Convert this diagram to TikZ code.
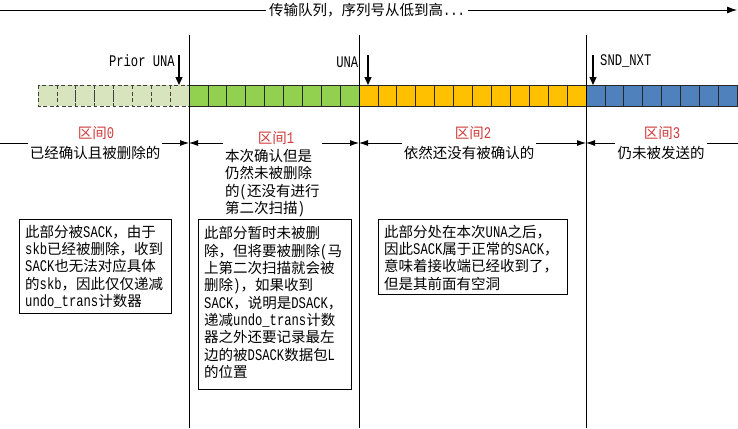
\documentclass[tikz,border=0pt]{standalone}
\usepackage{fontspec}
\setmainfont{Noto Sans CJK SC}
\newfontfamily\lf[FakeStretch=0.75,Scale=1.12]{Liberation Mono}
\usetikzlibrary{arrows.meta}
\definecolor{paleg}{HTML}{D7E4BD}
\definecolor{cg}{HTML}{92D050}
\definecolor{co}{HTML}{FFC000}
\definecolor{cb}{HTML}{4F81BD}
\definecolor{zred}{HTML}{D03A3A}
\newcommand\Lt[1]{{\lf #1}}
\begin{document}
\begin{tikzpicture}[x=1pt,y=-1pt,
  every node/.style={font=\fontsize{14.5}{17.3}\selectfont, inner sep=0pt},
  cell/.style={draw=black!85, line width=0.7pt},
  ghost/.style={draw=black!75, dash pattern=on 4pt off 2.5pt, fill=paleg, line width=0.7pt},
  divider/.style={line width=0.8pt},
  ptr/.style={line width=1.4pt, -{Triangle[length=8pt,width=7pt]}},
  span/.style={line width=0.8pt},
  spanr/.style={span, -{Latex[length=9pt,width=6pt]}},
  spanl/.style={span, {Latex[length=9pt,width=6pt]}-},
  spanlr/.style={span, {Latex[length=9pt,width=6pt]}-{Latex[length=9pt,width=6pt]}},
  hd/.style={text=zred},
  desc/.style={inner xsep=2pt},
  note/.style={draw, line width=0.8pt, anchor=north west},
  ntext/.style={anchor=north west, align=left},
  ]
\useasboundingbox (0,0) rectangle (738,428);

% title arrow
\node[inner xsep=3pt] (title) at (367,10) {传输队列，序列号从低到高\Lt{...}};
\coordinate (tl) at (0,10);
\coordinate (tr) at (737,10);
\draw[line width=0.8pt] (tl) -- (title.west);
\draw[line width=0.8pt,-{Latex[length=10pt,width=7pt]}] (title.east) -- (tr);

% packet cells
\foreach \i in {0,...,7} \draw[ghost] ({38+\i*18.875},85) rectangle ++(18.875,21);
\foreach \i in {0,...,8} \draw[cell,fill=cg] ({189+\i*18.889},85) rectangle ++(18.889,21);
\foreach \i in {0,...,11} \draw[cell,fill=co] ({359+\i*18.917},85) rectangle ++(18.917,21);
\foreach \i in {0,...,7} \draw[cell,fill=cb] ({586+\i*18.9},85) rectangle ++(18.9,21);

% dividers
\foreach \x/\n in {189/a,359/b,586/c} {
  \coordinate (d\n t) at (\x,35);
  \coordinate (d\n b) at (\x,428);
  \draw[divider] (d\n t) -- (d\n b);
}

% pointers
\coordinate (p0t) at (179,55); \coordinate (p0b) at (179,85);
\coordinate (p1t) at (368,55); \coordinate (p1b) at (368,85);
\coordinate (p2t) at (593,55); \coordinate (p2b) at (593,85);
\draw[ptr] (p0t) -- (p0b);
\draw[ptr] (p1t) -- (p1b);
\draw[ptr] (p2t) -- (p2b);
\node[anchor=east] (l0) at (175,61) {\Lt{Prior UNA}};
\node[anchor=east] (l1) at (358.5,62) {\Lt{UNA}};
\node[anchor=west] (l2) at (600,61) {\Lt{SND\_NXT}};

% interval spans
\coordinate (s0) at (0,143);
\coordinate (b1) at (189,143);
\coordinate (b2) at (359,143);
\coordinate (b3) at (586,143);
\coordinate (s4) at (738,143);

\node[hd] (h0) at (96,133) {区间\Lt{0}};
\node[desc] (t0) at (95,152.5) {已经确认且被删除的};
\node[hd] (h1) at (276,138) {区间\Lt{1}};
\node[desc,ntext] (t1) at (223,149) {本次确认但是\\仍然未被删除\\的\Lt{(}还没有进行\\第二次扫描\Lt{)}};
\node[hd] (h2) at (473,133) {区间\Lt{2}};
\node[desc] (t2) at (469,152.5) {依然还没有被确认的};
\node[hd] (h3) at (662,133) {区间\Lt{3}};
\node[desc] (t3) at (661,152.5) {仍未被发送的};

\draw[span] (s0) -- (s0 -| t0.west);
\draw[spanr] (s0 -| t0.east) -- (b1);
\draw[spanl] (b1) -- (b1 -| t1.west);
\draw[spanr] (b1 -| t1.east) -- (b2);
\draw[spanl] (b2) -- (b2 -| t2.west);
\draw[spanr] (b2 -| t2.east) -- (b3);
\draw[spanl] (b3) -- (b3 -| t3.west);
\draw[span] (b3 -| t3.east) -- (s4);

% note boxes
\node[note, minimum width=152pt, minimum height=94pt] (n0) at (19,219) {};
\node[ntext] (x0) at (25,224.7) {此部分被\Lt{SACK}，由于\\\Lt{skb}已经被删除，收到\\\Lt{SACK}也无法对应具体\\的\Lt{skb}，因此仅仅递减\\\Lt{undo\_trans}计数器};
\node[note, minimum width=153pt, minimum height=170pt] (n1) at (198,219) {};
\node[ntext] (x1) at (204,226.5) {此部分暂时未被删\\除，但将要被删除\Lt{(}马\\上第二次扫描就会被\\删除\Lt{)}，如果收到\\\Lt{SACK}，说明是\Lt{DSACK}，\\递减\Lt{undo\_trans}计数\\器之外还要记录最左\\边的被\Lt{DSACK}数据包\Lt{L}\\的位置};
\node[note, minimum width=189pt, minimum height=75pt] (n2) at (378,219) {};
\node[ntext] (x2) at (384,224.7) {此部分处在本次\Lt{UNA}之后，\\因此\Lt{SACK}属于正常的\Lt{SACK}，\\意味着接收端已经收到了，\\但是其前面有空洞};
\end{tikzpicture}
\end{document}
